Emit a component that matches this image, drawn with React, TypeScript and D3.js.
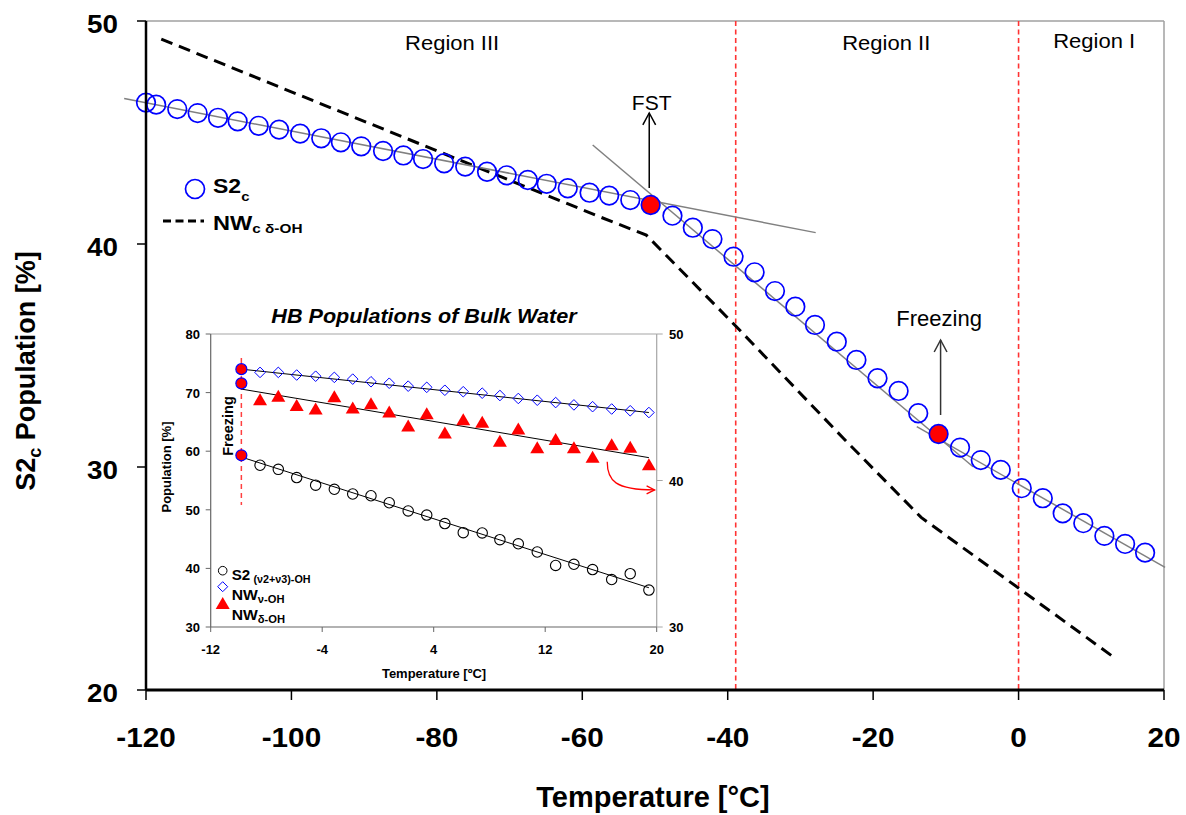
import React from 'react';
import * as d3 from 'd3';

// ---------- main chart data ----------
const mainTemps = [-120, -118.6, -115.7, -112.9, -110.1, -107.4, -104.5, -101.7, -98.8, -95.9, -93.2, -90.4, -87.4, -84.6, -81.9, -79.0, -76.1, -73.1, -70.4, -67.5, -64.9, -62.0, -59.0, -56.3, -53.4, -50.6, -47.6, -44.8, -42.1, -39.2, -36.3, -33.5, -30.7, -28.0, -25.0, -22.3, -19.4, -16.5, -13.8, -11.0, -8.05, -5.2, -2.45, 0.44, 3.33, 6.07, 8.9, 11.8, 14.65, 17.4];
const s2cValues = [46.34, 46.25, 46.05, 45.87, 45.66, 45.5, 45.3, 45.13, 44.95, 44.74, 44.56, 44.38, 44.17, 43.97, 43.81, 43.62, 43.47, 43.24, 43.08, 42.87, 42.70, 42.5, 42.3, 42.17, 41.97, 41.75, 41.27, 40.73, 40.22, 39.43, 38.73, 37.89, 37.19, 36.37, 35.62, 34.8, 33.98, 33.41, 32.41, 31.48, 30.87, 30.31, 29.87, 29.05, 28.6, 27.92, 27.48, 26.91, 26.55, 26.16];
const highlightIdx = [25, 39]; // FST, Freezing
const nwDashTemps = [-117.9, -57.6, -51.2, -38.8, -24.1, -13.4, 13.3];
const nwDashValues = [49.19, 41.22, 40.40, 36.29, 31.29, 27.74, 21.42];
const fitRegionIII: [number, number][] = [[-123.0, 46.52], [-27.9, 40.51]];
const fitRegionII: [number, number][] = [[-58.57, 44.44], [-6.26, 30.01]];
const fitRegionI: [number, number][] = [[-14.0, 31.81], [20.15, 25.5]];
const regionBounds = [-38.9, 0];
const regionLabels = ['Region III', 'Region II', 'Region I'];
const regionLabelTemps = [-77.9, -18.2, 10.4];
const xTicksMain = [-120, -100, -80, -60, -40, -20, 0, 20];
const yTicksMain = [20, 30, 40, 50];

// ---------- inset data ----------
const insetTemps = [-9.8, -8.46, -7.15, -5.83, -4.47, -3.13, -1.81, -0.5, 0.81, 2.17, 3.5, 4.8, 6.12, 7.48, 8.75, 10.07, 11.43, 12.75, 14.06, 15.4, 16.77, 18.1, 19.44];
const s2BulkValues = [59.3, 57.6, 56.9, 55.5, 54.2, 53.5, 52.7, 52.4, 51.2, 49.8, 49.1, 47.65, 46.1, 46.05, 44.9, 44.2, 42.8, 40.5, 40.7, 39.8, 38.1, 39.1, 36.3];
const nwNuValues = [74.0, 73.45, 73.45, 73.0, 72.8, 72.6, 72.3, 71.85, 71.6, 71.1, 70.9, 70.4, 70.15, 69.9, 69.5, 69.0, 68.7, 68.3, 67.9, 67.6, 67.2, 66.9, 66.6];
// NW delta-OH is read on the right axis
const nwDeltaValues = [46.63, 45.48, 45.72, 45.08, 44.84, 45.68, 44.92, 45.2, 44.64, 43.68, 44.52, 43.2, 44.12, 43.94, 42.64, 43.48, 42.2, 42.76, 42.2, 41.56, 42.4, 42.24, 41.04];
const s2BulkFit: [number, number][] = [[-9.8, 59.0], [19.44, 36.7]];
const nwNuFit: [number, number][] = [[-9.8, 74.0], [19.44, 66.6]];
const nwDeltaFit: [number, number][] = [[-9.8, 46.24], [19.44, 41.56]];
const insetXTicks = [-12, -4, 4, 12, 20];
const insetYTicks = [30, 40, 50, 60, 70, 80];
const insetYRTicks = [30, 40, 50];

const FONT = '"Liberation Sans", Arial, Helvetica, sans-serif';

function Txt(props: any) {
  const { x, y, sx = 1, rotate, size, weight = 'normal', italic, anchor = 'start', fill = '#000', children } = props;
  const tr = `translate(${x},${y})` + (rotate ? ` rotate(${rotate})` : '') + (sx !== 1 ? ` scale(${sx},1)` : '');
  return (
    <text transform={tr} fontSize={size} fontWeight={weight} fontStyle={italic ? 'italic' : 'normal'}
      textAnchor={anchor} fill={fill} fontFamily={FONT}>{children}</text>
  );
}

export default function App() {
  const x = d3.scaleLinear().domain([-120, 20]).range([146, 1164]);
  const y = d3.scaleLinear().domain([20, 50]).range([690, 21]);
  const ix = d3.scaleLinear().domain([-12, 20]).range([210.7, 656.7]);
  const iy = d3.scaleLinear().domain([30, 80]).range([627, 334]);
  const iyR = d3.scaleLinear().domain([30, 50]).range([627, 334]);

  const mainLine = d3.line<[number, number]>().x(d => x(d[0])).y(d => y(d[1]));
  const insetLine = d3.line<[number, number]>().x(d => ix(d[0])).y(d => iy(d[1]));
  const insetLineR = d3.line<[number, number]>().x(d => ix(d[0])).y(d => iyR(d[1]));

  const nwPts: [number, number][] = nwDashTemps.map((t, i) => [t, nwDashValues[i]]);

  const fst = [x(mainTemps[highlightIdx[0]]), y(s2cValues[highlightIdx[0]])];
  const frz = [x(mainTemps[highlightIdx[1]]), y(s2cValues[highlightIdx[1]])];

  const tri = (cx: number, cy: number) => `M${cx},${cy - 7}L${cx + 7},${cy + 5}L${cx - 7},${cy + 5}Z`;
  const dia = (cx: number, cy: number, r = 5.3) => `M${cx},${cy - r}L${cx + r},${cy}L${cx},${cy + r}L${cx - r},${cy}Z`;

  const x0 = x.range()[0], x1 = x.range()[1];
  const yTop = y.range()[1], yBot = y.range()[0];
  const ix0 = ix.range()[0], ix1 = ix.range()[1];
  const iyTop = iy.range()[1], iyBot = iy.range()[0];

  return (
    <svg width={1186} height={815} style={{ position: 'absolute', left: 0, top: 0, background: '#fff' }}>
      <rect x={0} y={0} width={1186} height={815} fill="#fff" />

      {/* plot frame */}
      <line x1={x0} y1={yTop} x2={x1} y2={yTop} stroke="#a0a0a0" strokeWidth={1.5} />
      <line x1={x1} y1={yTop} x2={x1} y2={yBot} stroke="#a0a0a0" strokeWidth={1.5} />

      {/* region boundaries */}
      {regionBounds.map((b, i) => (
        <line key={i} x1={x(b)} x2={x(b)} y1={yTop} y2={yBot} stroke="#ff3333" strokeWidth={1.6} strokeDasharray="5,3.5" />
      ))}
      {regionLabels.map((l, i) => (
        <Txt key={l} x={x(regionLabelTemps[i])} y={i === 2 ? 48 : 50} size={20} sx={1.1} anchor="middle">{l}</Txt>
      ))}

      {/* NW dashed line */}
      <path d={mainLine(nwPts) || ''} fill="none" stroke="#000" strokeWidth={3} strokeDasharray="12,7" />

      {/* fit lines */}
      {[fitRegionIII, fitRegionII, fitRegionI].map((f, i) => (
        <path key={i} d={mainLine(f) || ''} fill="none" stroke="#808080" strokeWidth={1.5} />
      ))}

      {/* S2c circles */}
      {mainTemps.map((t, i) => (
        <circle key={i} cx={x(t)} cy={y(s2cValues[i])} r={9.3}
          fill={highlightIdx.includes(i) ? '#ff0000' : 'none'} stroke="#0000ff" strokeWidth={1.7} />
      ))}

      {/* FST annotation */}
      <line x1={fst[0] - 1.4} x2={fst[0] - 1.4} y1={fst[1] - 17} y2={fst[1] - 92} stroke="#000" strokeWidth={1.5} />
      <path d={`M${fst[0] - 7.8},${fst[1] - 80} L${fst[0] - 1.4},${fst[1] - 92} L${fst[0] + 5},${fst[1] - 80}`} fill="none" stroke="#000" strokeWidth={1.5} />
      <Txt x={fst[0] + 1} y={fst[1] - 94.5} size={21} anchor="middle">FST</Txt>

      {/* Freezing annotation */}
      <line x1={frz[0] + 2} x2={frz[0] + 2} y1={frz[1] - 19} y2={frz[1] - 94} stroke="#333" strokeWidth={1.5} />
      <path d={`M${frz[0] - 4.4},${frz[1] - 82} L${frz[0] + 2},${frz[1] - 94} L${frz[0] + 8.4},${frz[1] - 82}`} fill="none" stroke="#333" strokeWidth={1.5} />
      <Txt x={frz[0] + 0.5} y={frz[1] - 108} size={22} anchor="middle">Freezing</Txt>

      {/* axes */}
      <line x1={x0} y1={yTop} x2={x0} y2={yBot} stroke="#000" strokeWidth={2.5} />
      <line x1={x0} y1={yBot} x2={x1} y2={yBot} stroke="#000" strokeWidth={2.8} />
      {xTicksMain.map(t => (
        <g key={t}>
          <line x1={x(t)} x2={x(t)} y1={yBot} y2={yBot + 10} stroke="#000" strokeWidth={1.5} />
          <Txt x={x(t)} y={747} size={27} weight="bold" sx={1.1} anchor="middle">{t}</Txt>
        </g>
      ))}
      {yTicksMain.map(t => (
        <g key={t}>
          <line x1={x0 - 9} x2={x0} y1={y(t)} y2={y(t)} stroke="#000" strokeWidth={1.5} />
          <Txt x={118} y={y(t) + 12} size={26} weight="bold" sx={1.07} anchor="end">{t}</Txt>
        </g>
      ))}
      <Txt x={35} y={371} rotate={-90} size={27} weight="bold" anchor="middle">
        S2<tspan fontSize={18} dy={6}>c</tspan><tspan dy={-6}> Population [%]</tspan>
      </Txt>
      <Txt x={653} y={807} size={29} weight="bold" anchor="middle">Temperature [°C]</Txt>

      {/* main legend */}
      <circle cx={195} cy={189} r={9.5} fill="none" stroke="#0000ff" strokeWidth={1.7} />
      <Txt x={213} y={193} size={20} weight="bold" sx={1.15}>S2<tspan fontSize={13} dy={8}>c</tspan></Txt>
      <line x1={163} x2={204} y1={221} y2={221} stroke="#000" strokeWidth={3} strokeDasharray="8,4.5" />
      <Txt x={213} y={230} size={20} weight="bold" sx={1.18}>NW<tspan fontSize={13} dy={3}>c δ-OH</tspan></Txt>

      {/* ---------- inset ---------- */}
      <Txt x={424} y={323} size={20} weight="bold" italic sx={1.08} anchor="middle">HB Populations of Bulk Water</Txt>
      <rect x={ix0} y={iyTop} width={ix1 - ix0} height={iyBot - iyTop} fill="#fff" stroke="none" />
      <line x1={ix0} y1={iyTop} x2={ix1} y2={iyTop} stroke="#a6a6a6" strokeWidth={1.2} />
      <line x1={ix1} y1={iyTop} x2={ix1} y2={iyBot} stroke="#a6a6a6" strokeWidth={1.2} />
      <line x1={ix0} y1={iyTop} x2={ix0} y2={iyBot} stroke="#666" strokeWidth={1.2} />
      <line x1={ix0} y1={iyBot} x2={ix1} y2={iyBot} stroke="#666" strokeWidth={1.2} />
      {insetXTicks.map(t => (
        <g key={t}>
          <line x1={ix(t)} x2={ix(t)} y1={iyBot} y2={iyBot + 5} stroke="#666" strokeWidth={1} />
          <Txt x={ix(t)} y={653.5} size={13} weight="bold" anchor="middle">{t}</Txt>
        </g>
      ))}
      {insetYTicks.map(t => (
        <g key={t}>
          <line x1={ix0 - 5} x2={ix0} y1={iy(t)} y2={iy(t)} stroke="#666" strokeWidth={1} />
          <Txt x={200} y={iy(t) + 5} size={13} weight="bold" anchor="end">{t}</Txt>
        </g>
      ))}
      {insetYRTicks.map(t => (
        <g key={t}>
          <line x1={ix1} x2={ix1 + 6} y1={iyR(t)} y2={iyR(t)} stroke="#a6a6a6" strokeWidth={1} />
          <Txt x={669} y={iyR(t) + 5} size={13} weight="bold">{t}</Txt>
        </g>
      ))}
      <Txt x={171} y={467} rotate={-90} size={13} weight="bold" anchor="middle">Population [%]</Txt>
      <Txt x={434} y={678} size={13} weight="bold" anchor="middle">Temperature [ºC]</Txt>

      {/* freezing marker line and label */}
      <line x1={ix(insetTemps[0])} x2={ix(insetTemps[0])} y1={358} y2={505} stroke="#ff4040" strokeWidth={1.5} strokeDasharray="5,4" />
      <Txt x={233} y={426} rotate={-90} size={14.5} weight="bold" anchor="middle">Freezing</Txt>

      {/* fits */}
      <path d={insetLine(s2BulkFit) || ''} stroke="#000" strokeWidth={1} fill="none" />
      <path d={insetLine(nwNuFit) || ''} stroke="#000" strokeWidth={1} fill="none" />
      <path d={insetLineR(nwDeltaFit) || ''} stroke="#000" strokeWidth={1} fill="none" />

      {/* markers */}
      {insetTemps.map((t, i) => i === 0 ? null : (
        <g key={i}>
          <circle cx={ix(t)} cy={iy(s2BulkValues[i])} r={5.2} fill="none" stroke="#000" strokeWidth={1.1} />
          <path d={dia(ix(t), iy(nwNuValues[i]))} fill="none" stroke="#0000ff" strokeWidth={1} />
          <path d={tri(ix(t), iyR(nwDeltaValues[i]))} fill="#ff0000" stroke="none" />
        </g>
      ))}
      <circle cx={ix(insetTemps[0])} cy={iy(s2BulkValues[0])} r={5.5} fill="#ff0000" stroke="#0000ff" strokeWidth={1.2} />
      <circle cx={ix(insetTemps[0])} cy={iy(nwNuValues[0])} r={5.5} fill="#ff0000" stroke="#0000ff" strokeWidth={1.2} />
      <circle cx={ix(insetTemps[0])} cy={iyR(nwDeltaValues[0])} r={5.5} fill="#ff0000" stroke="#0000ff" strokeWidth={1.2} />

      {/* red curved arrow to right axis */}
      <path d={`M${ix(16.45)},${iy(58.2)} C${ix(16.45)},${iy(55)} ${ix(17)},${iy(53.4)} ${ix(19.85)},${iy(53.4)}`} fill="none" stroke="#ff0000" strokeWidth={1.3} />
      <path d={`M${ix(19.85) - 8},${iy(53.4) - 4} L${ix(19.85)},${iy(53.4)} L${ix(19.85) - 8},${iy(53.4) + 4}`} fill="none" stroke="#ff0000" strokeWidth={1.3} />

      {/* inset legend */}
      <circle cx={222.7} cy={570.7} r={4.3} fill="none" stroke="#000" strokeWidth={1} />
      <path d={dia(222.7, 586.7, 5)} fill="none" stroke="#0000ff" strokeWidth={1} />
      <path d={tri(222.7, 604)} fill="#ff0000" />
      <Txt x={231.7} y={580} size={14} weight="bold" sx={1.08}>S2<tspan fontSize={10} dx={3} dy={3}>(ν2+ν3)-OH</tspan></Txt>
      <Txt x={231.7} y={600} size={14} weight="bold" sx={1.12}>NW<tspan fontSize={10} dy={3}>ν-OH</tspan></Txt>
      <Txt x={231.7} y={619.5} size={14} weight="bold" sx={1.12}>NW<tspan fontSize={10} dy={3}>δ-OH</tspan></Txt>
    </svg>
  );
}
